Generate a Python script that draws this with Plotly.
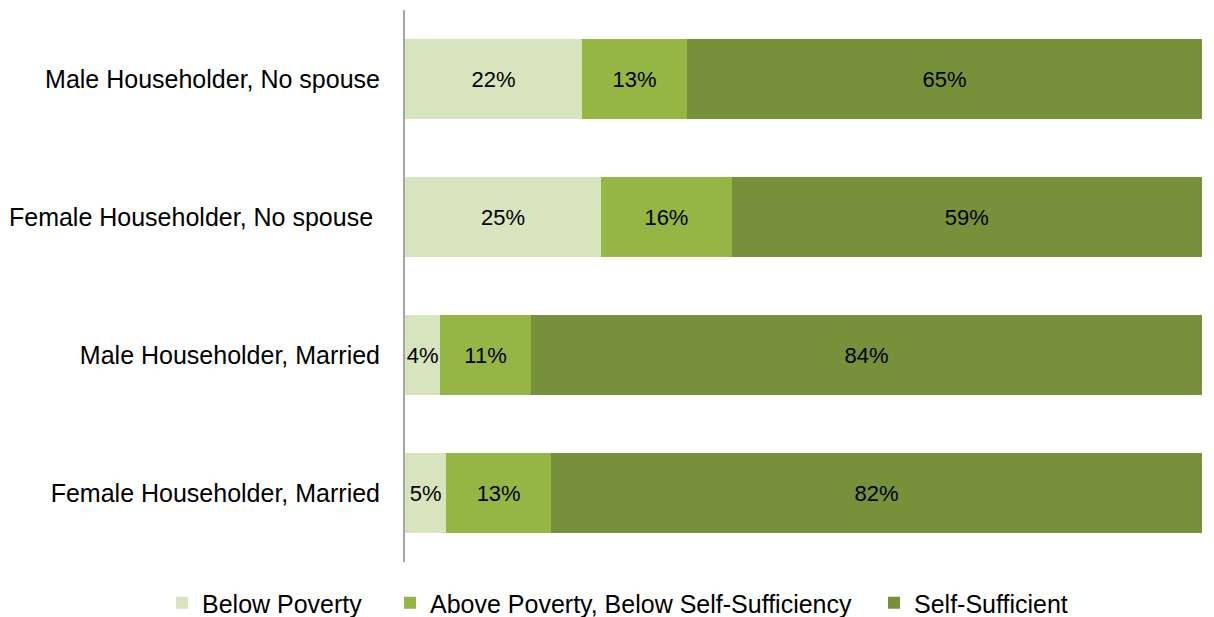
import plotly.graph_objects as go

categories = ["Male Householder, No spouse", "Female Householder, No spouse\u00a0",
              "Male Householder, Married", "Female Householder, Married"]
below_poverty = [22.2, 24.6, 4.4, 5.2]
above_poverty = [13.2, 16.4, 11.4, 13.1]
self_sufficient = [64.6, 59.0, 84.2, 81.7]
series_names = ["Below Poverty", "Above Poverty, Below Self-Sufficiency", "Self-Sufficient"]
colors = ["#D7E4BD", "#95B545", "#77913A"]
legend_ids = ["legend", "legend2", "legend3"]
legend_left_px = [162, 390, 874]

FONT = "Liberation Sans, Arial"
W, H = 1214, 617

fig = go.Figure()
for name, vals, col, lg in zip(series_names, [below_poverty, above_poverty, self_sufficient], colors, legend_ids):
    fig.add_trace(go.Bar(
        y=categories, x=vals, name=name, orientation="h",
        marker=dict(color=col, line=dict(width=0)),
        text=[f"{round(v):.0f}%" for v in vals],
        textposition="inside", insidetextanchor="middle", textangle=0,
        textfont=dict(family=FONT, size=22, color="#000000"),
        hoverinfo="skip", legend=lg,
    ))

legend_common = dict(orientation="h", xref="container", yref="container",
                     y=1 - 603 / H, yanchor="middle", xanchor="left",
                     font=dict(size=25, family=FONT), itemwidth=30,
                     bgcolor="rgba(0,0,0,0)")

fig.update_layout(
    barmode="stack",
    bargap=0.42,
    width=W, height=H,
    margin=dict(l=405, r=12, t=10, b=55, autoexpand=False),
    paper_bgcolor="white", plot_bgcolor="white",
    font=dict(family=FONT, size=24, color="#000000"),
    uniformtext=dict(minsize=22, mode="show"),
    xaxis=dict(visible=False, range=[0, 100], fixedrange=True),
    yaxis=dict(autorange="reversed", showline=True, linecolor="#A6A6A6", linewidth=2,
               ticks="", showgrid=False, ticklabelstandoff=18, fixedrange=True,
               tickfont=dict(size=25, family=FONT)),
    legend=dict(x=legend_left_px[0] / W, **legend_common),
    legend2=dict(x=legend_left_px[1] / W, **legend_common),
    legend3=dict(x=legend_left_px[2] / W, **legend_common),
    showlegend=True,
)

fig.write_html("out.html", config={"displayModeBar": False},
               post_script="document.body.style.margin='0';")
